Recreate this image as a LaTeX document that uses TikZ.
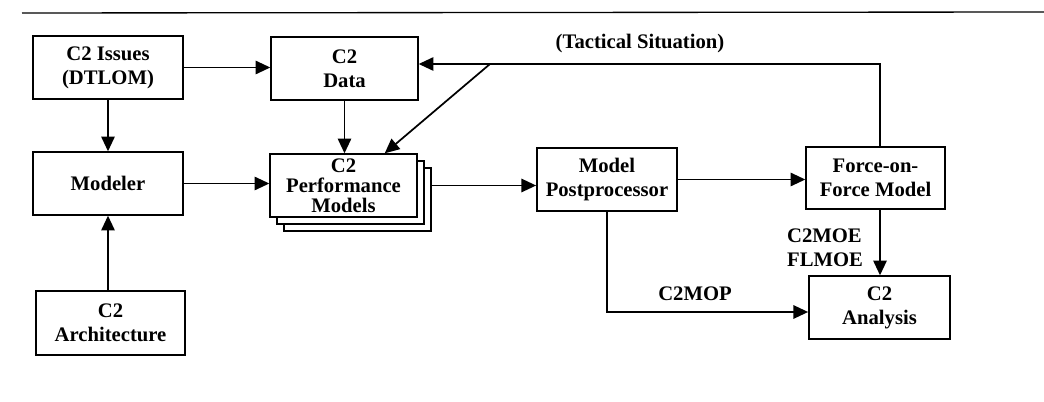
\documentclass[tikz,border=0pt]{standalone}
\usepackage{fontspec}
\setmainfont{Liberation Serif}
\usetikzlibrary{positioning}
\usetikzlibrary{arrows.meta}
\usetikzlibrary{calc}
\usetikzlibrary{math}

\begin{document}
\begin{tikzpicture}[x=0.75pt,y=-0.75pt,line width=1.3pt,
  box/.style={draw,fill=white,align=center,inner sep=0pt,
    minimum width=112pt,minimum height=47pt,
    font=\bfseries\fontsize{15.5}{18}\selectfont},
  lbl/.style={align=center,inner sep=0pt,font=\bfseries\fontsize{15.5}{18}\selectfont},
  >={Triangle[length=11pt,width=10pt]}]

  \tikzmath{
    \layer = 7;   % offset of the stacked model sheets
    \fby   = 64;  % height of the feedback line
  }

  \useasboundingbox (0,0) rectangle (1044,402);

  % page rule
  \draw[line width=1pt] (22,13) -- (1044,12);

  % left column
  \node[box] (issues)  at (108,67.5)  {C2 Issues\\(DTLOM)};
  \node[box] (modeler) at (108,183.5) {Modeler};
  \node[box,minimum width=111.75pt,minimum height=48pt] (arch) at (110.5,323) {C2\\Architecture};

  % data and the stack of performance models
  \node[box,minimum width=110pt] (data) at (344.5,68.5) {C2\\Data};
  \node[box,minimum width=110pt] (perfC) at ({343.5+2*\layer},{185.5+2*\layer}) {};
  \node[box,minimum width=110pt] (perfB) at ({343.5+\layer},{185.5+\layer}) {};
  \node[box,minimum width=110pt,font=\bfseries\fontsize{15.5}{15}\selectfont] (perf) at (343.5,185.5) {C2\\Performance\\Models};

  % right part
  \node[box,minimum width=105pt] (post)     at (607,179.5)   {Model\\Postprocessor};
  \node[box,minimum width=104pt] (force)    at (875.5,178)   {Force-on-\\Force Model};
  \node[box,minimum width=105.75pt] (analysis) at (879.5,307.5) {C2\\Analysis};

  % connectors
  \draw[->] (issues.east) -- (issues.east -| data.west);
  \draw[->] (issues) -- (modeler);
  \draw[->] (data) -- (data.south |- perf.north);
  \draw[->] (modeler.east) -- (modeler.east -| perf.west);
  \draw[->] (arch.north -| modeler.south) -- (modeler.south);
  \draw[->] (perfC.east |- perf.east) -- (perf.east -| post.west);
  \draw[->] (post.east) -- (post.east -| force.west);
  \draw[->] (force.south -| 880,0) -- (analysis.north -| 880,0);
  \draw[->] (post.south) |- (analysis.west |- 0,312);

  % feedback of the tactical situation
  \coordinate (fb) at (880,\fby);
  \coordinate (br) at (490,\fby);
  \draw[->] (force.north -| fb) -- (fb) -- (data.east |- fb);
  \draw[->] (br) -- (perf.38);

  % labels
  \node[lbl] (tactical) at (640,44) {(Tactical Situation)};
  \node[lbl] (mop) at (695,294) {C2MOP};
  \node[lbl,align=left] (moe) at (825,248) {C2MOE\\FLMOE};

\end{tikzpicture}
\end{document}
